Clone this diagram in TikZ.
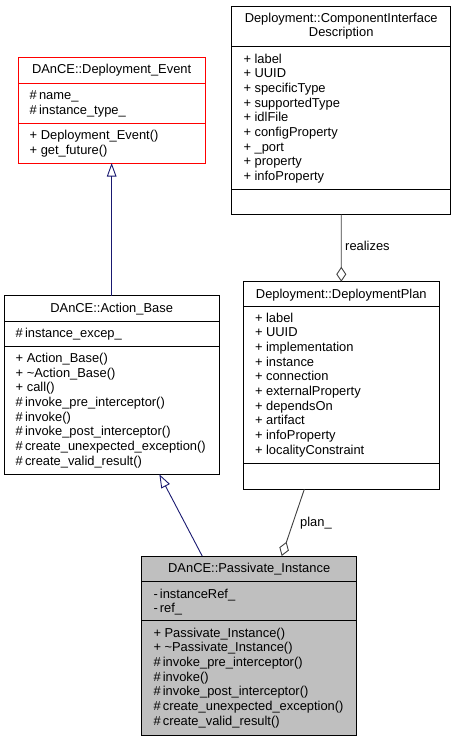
\documentclass[tikz,border=0pt]{standalone}
\usepackage{fontspec}
\setmainfont{Liberation Sans}
\usetikzlibrary{arrows.meta,calc}
\definecolor{inhcol}{HTML}{191970}
\definecolor{relcol}{HTML}{404040}
\definecolor{curfill}{HTML}{BFBFBF}
\begin{document}
\begin{tikzpicture}[x=1pt,y=-1pt,
  classbox/.style={draw=black,line width=0.9pt,rectangle,anchor=north west,inner sep=0pt,outer sep=0pt},
  sepline/.style={draw=black,line width=0.9pt},
  mem/.style={anchor=base west,inner sep=0pt,font=\fontsize{12.9}{14.67}\selectfont},
  ttl/.style={anchor=base,inner sep=0pt,font=\fontsize{12.9}{14.67}\selectfont},
  inh/.style={draw=inhcol,line width=0.9pt,-{Triangle[open,length=13.5pt,width=9.5pt]}},
  agg/.style={draw=relcol,line width=0.9pt,-{Diamond[open,length=15pt,width=10pt]}},
  lbl/.style={anchor=base west,inner sep=0pt,font=\fontsize{12.9}{14.67}\selectfont}
]
\useasboundingbox (0,0) rectangle (456,741);

% ---------- DAnCE::Deployment_Event ----------
\node[classbox,draw=red,minimum width=186.7pt,minimum height=105.3pt] (evt) at (18.3,57.7) {};
\draw[sepline,draw=red] (18.3,83) -- (205,83);
\draw[sepline,draw=red] (18.3,123) -- (205,123);
\node[ttl] (evtT) at (111.65,74) {DAnCE::Deployment\_Event};
\node[mem] (evtA1) at (29.5,99.3) {\#\,name\_};
\node[mem] (evtA2) at (29.5,114) {\#\,instance\_type\_};
\node[mem] (evtO1) at (29.5,139.3) {+ Deployment\_Event()};
\node[mem] (evtO2) at (29.5,154) {+ get\_future()};

% ---------- Deployment::ComponentInterfaceDescription ----------
\node[classbox,minimum width=219pt,minimum height=208.3pt] (cid) at (231.7,6) {};
\draw[sepline] (231.7,46.7) -- (450.7,46.7);
\draw[sepline] (231.7,189) -- (450.7,189);
\node[ttl] (cidT1) at (341.2,22.7) {Deployment::ComponentInterface};
\node[ttl] (cidT2) at (341.2,37) {Description};
\foreach \t [count=\i from 0] in {label,UUID,specificType,supportedType,idlFile,configProperty,\_port,property,infoProperty}
  \node[mem] (cidA\i) at (243.3,63.3+14.67*\i) {+ \t};

% ---------- DAnCE::Action_Base ----------
\node[classbox,minimum width=214.7pt,minimum height=178.6pt] (ab) at (4.3,295.7) {};
\draw[sepline] (4.3,321.3) -- (219,321.3);
\draw[sepline] (4.3,346.3) -- (219,346.3);
\node[ttl] (abT) at (111.65,312) {DAnCE::Action\_Base};
\node[mem] (abA1) at (15.5,337.6) {\#\,instance\_excep\_};
\foreach \t [count=\i from 0] in {+ Action\_Base(),+ \textasciitilde Action\_Base(),+ call(),\#\,invoke\_pre\_interceptor(),\#\,invoke(),\#\,invoke\_post\_interceptor(),\#\,create\_unexpected\_exception(),\#\,create\_valid\_result()}
  \node[mem] (abO\i) at (15.5,362.6+14.67*\i) {\t};

% ---------- Deployment::DeploymentPlan ----------
\node[classbox,minimum width=196pt,minimum height=207.6pt] (dp) at (243.3,281.7) {};
\draw[sepline] (243.3,306) -- (439.3,306);
\draw[sepline] (243.3,463.3) -- (439.3,463.3);
\node[ttl] (dpT) at (341.3,298) {Deployment::DeploymentPlan};
\foreach \t [count=\i from 0] in {label,UUID,implementation,instance,connection,externalProperty,dependsOn,artifact,infoProperty,localityConstraint}
  \node[mem] (dpA\i) at (254.8,322.3+14.67*\i) {+ \t};

% ---------- DAnCE::Passivate_Instance ----------
\node[classbox,fill=curfill,minimum width=215pt,minimum height=179pt] (pi) at (141.7,556) {};
\draw[sepline] (141.7,581.7) -- (356.7,581.7);
\draw[sepline] (141.7,620.7) -- (356.7,620.7);
\node[ttl] (piT) at (249.2,572.3) {DAnCE::Passivate\_Instance};
\node[mem] (piA1) at (153.3,598) {-\,instanceRef\_};
\node[mem] (piA2) at (153.3,612.7) {-\,ref\_};
\foreach \t [count=\i from 0] in {+ Passivate\_Instance(),+ \textasciitilde Passivate\_Instance(),\#\,invoke\_pre\_interceptor(),\#\,invoke(),\#\,invoke\_post\_interceptor(),\#\,create\_unexpected\_exception(),\#\,create\_valid\_result()}
  \node[mem] (piO\i) at (153.3,637+14.67*\i) {\t};

% ---------- connectors ----------
\draw[inh] (ab.north) -- (evt.south);
\draw[inh] ($(pi.north)+(-47,0)$) -- ($(ab.south)+(47.7,0)$);
\draw[agg] (cid.south) -- (dp.north);
\node[lbl] (lrel) at (345,250.7) {realizes};
\draw[agg] ($(dp.south)+(-37,0)$) -- ($(pi.north)+(32.5,0)$);
\node[lbl] (lplan) at (300,526) {plan\_};
\end{tikzpicture}
\end{document}
